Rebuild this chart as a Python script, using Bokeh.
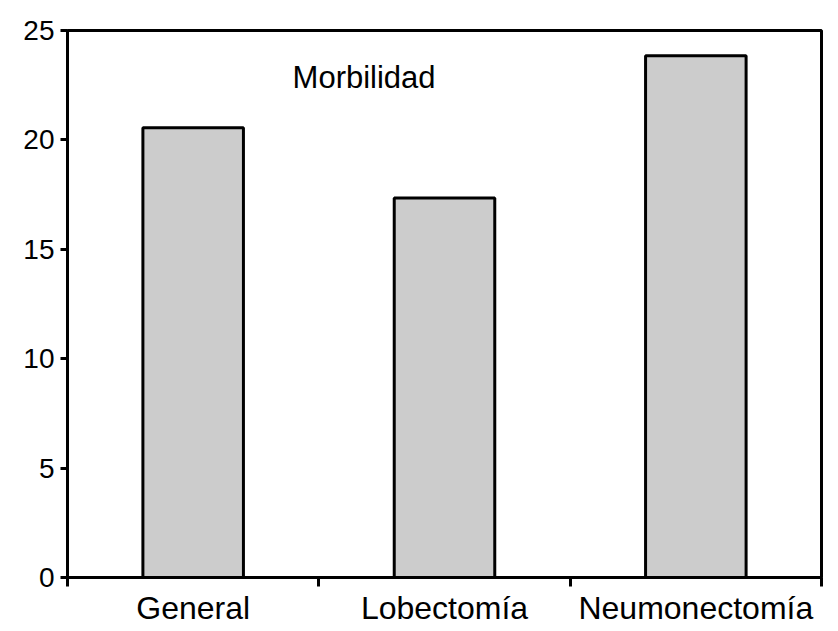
from bokeh.plotting import figure
from bokeh.models import FixedTicker, Range1d, Label, ColumnDataSource
from bokeh.embed import file_html
from bokeh.resources import INLINE

categories = ["General", "Lobectomía", "Neumonectomía"]
values = [20.55, 17.35, 23.85]
y_ticks = [0, 5, 10, 15, 20, 25]
title_text = "Morbilidad"

FONT = "Liberation Sans"

xpos = [i + 0.5 for i in range(len(categories))]
src = ColumnDataSource(dict(x=xpos, top=values, cat=categories))

p = figure(width=830, height=628, output_backend="svg", toolbar_location=None,
           x_range=Range1d(0, len(categories)), y_range=Range1d(0, 25),
           min_border_left=67, min_border_right=9, min_border_top=30, min_border_bottom=50)

p.vbar(x="x", top="top", width=0.4, bottom=0, source=src,
       fill_color="#cccccc", line_color="black", line_width=3)

p.xgrid.visible = False
p.ygrid.visible = False
p.outline_line_color = "black"
p.outline_line_width = 3
p.outline_line_alpha = 1
p.background_fill_color = "white"
p.border_fill_color = "white"

# x axis
xa = p.xaxis[0]
xa.ticker = FixedTicker(ticks=xpos, minor_ticks=list(range(len(categories) + 1)))
xa.major_label_overrides = {x: c for x, c in zip(xpos, categories)}
xa.major_tick_out = 0
xa.major_tick_in = 0
xa.minor_tick_out = 9
xa.minor_tick_in = 0
xa.minor_tick_line_width = 3
xa.minor_tick_line_color = "black"
xa.axis_line_width = 3
xa.axis_line_color = "black"
xa.major_label_text_font = FONT
xa.major_label_text_font_size = "32px"
xa.major_label_text_color = "black"
xa.major_label_standoff = 3

# y axis
ya = p.yaxis[0]
ya.ticker = FixedTicker(ticks=y_ticks)
ya.major_tick_out = 7
ya.major_tick_in = 0
ya.minor_tick_out = 0
ya.minor_tick_in = 0
ya.major_tick_line_width = 3
ya.major_tick_line_color = "black"
ya.axis_line_width = 3
ya.axis_line_color = "black"
ya.major_label_text_font = FONT
ya.major_label_text_font_size = "28px"
ya.major_label_text_color = "black"
ya.major_label_standoff = 6

p.add_layout(Label(x=1.18, y=22.85, text=title_text, text_font=FONT,
                   text_font_size="31px", text_align="center",
                   text_baseline="alphabetic", text_color="black"))

open("out.html", "w").write(file_html(p, INLINE))
